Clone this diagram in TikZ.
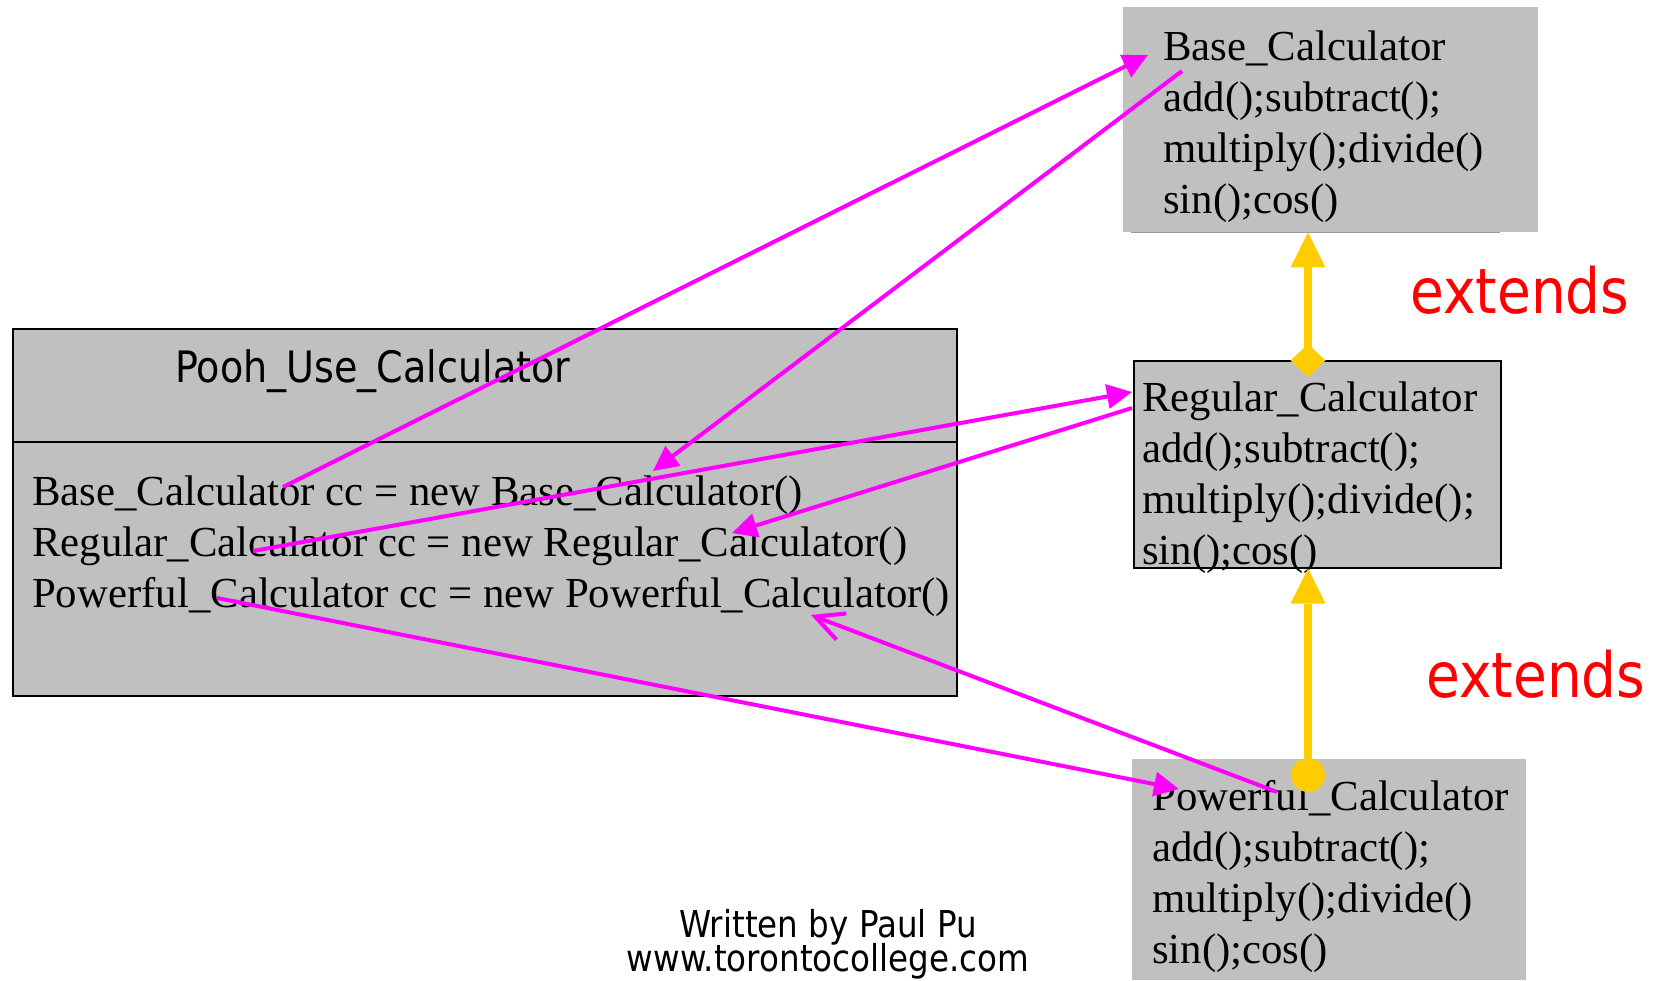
\documentclass[tikz,border=0pt]{standalone}
\usepackage{fontspec}
\setmainfont{Liberation Serif}
\newfontfamily\tahoma[FakeStretch=0.88]{DejaVu Sans}
\usetikzlibrary{arrows.meta}
\definecolor{boxgray}{HTML}{C0C0C0}
\definecolor{mag}{HTML}{FF00FF}
\definecolor{gold}{HTML}{FFCC00}
\definecolor{extred}{HTML}{FF0000}
\begin{document}
\begin{tikzpicture}[x=1pt,y=-1pt,
  box/.style={rectangle, fill=boxgray, inner sep=0pt, anchor=north west},
  txt/.style={inner sep=0pt, anchor=base west, font=\fontsize{42.8}{51}\selectfont},
  link/.style={draw=mag, line width=4pt, -{Triangle[length=25pt,width=24pt]}},
  uselink/.style={draw=mag, line width=4pt, -{Straight Barb[length=28pt,width=28pt]}},
  ext/.style={draw=gold, line width=7.5pt},
  lbl/.style={text=extred, inner sep=0pt, anchor=base west, font=\tahoma\fontsize{62.5}{70}\selectfont},
  foot/.style={inner sep=0pt, anchor=base, font=\tahoma\fontsize{37}{39}\selectfont}]
\useasboundingbox (0,0) rectangle (1662,980);
% boxes
\node[box, minimum width=415pt, minimum height=225pt] (base) at (1123,7) {};
\draw[gray!80, line width=1pt] ([shift={(8,0)}]base.south west) -- ([shift={(-38,0)}]base.south east);
\node[box, draw=black, line width=1.5pt, minimum width=367pt, minimum height=207pt] (reg) at (1133,360) {};
\node[box, minimum width=394pt, minimum height=221pt] (pow) at (1132,759) {};
\node[box, draw=black, line width=1.5pt, minimum width=944pt, minimum height=367pt] (pooh) at (12,328) {};
\draw[line width=1.5pt] ([shift={(0,114)}]pooh.north west) -- ([shift={(0,114)}]pooh.north east);
% texts
\node[txt] (baseT) at (1163,60) {\vtop{\hbox{Base\_Calculator}\hbox{add();subtract();}\hbox{multiply();divide()}\hbox{sin();cos()}}};
\node[txt] (regT) at (1142,411) {\vtop{\hbox{Regular\_Calculator}\hbox{add();subtract();}\hbox{multiply();divide();}\hbox{sin();cos()}}};
\node[txt] (powT) at (1152,810) {\vtop{\hbox{Powerful\_Calculator}\hbox{add();subtract();}\hbox{multiply();divide()}\hbox{sin();cos()}}};
\node[inner sep=0pt, anchor=base west, font=\tahoma\fontsize{43.3}{50}\selectfont] (poohT) at (175,382) {Pooh\_Use\_Calculator};
\node[txt] (poohL) at (32,505) {\vtop{\hbox{Base\_Calculator cc = new Base\_Calculator()}\hbox{Regular\_Calculator cc = new Regular\_Calculator()}\hbox{Powerful\_Calculator cc = new Powerful\_Calculator()}}};
\node[lbl] (ext1) at (1410,313) {extends};
\node[lbl] (ext2) at (1426,697) {extends};
\node[foot] (foot1) at (828,937) {Written by Paul Pu};
\node[foot] (foot2) at (828,971) {www.torontocollege.com};
% inheritance arrows
\draw[ext, {Diamond[length=33pt,width=35pt,line width=0pt]}-{Triangle[length=35pt,width=35pt,line width=0pt]}]
  ([shift={(175,17)}]reg.north west) -- ([shift={(185,0)}]base.south west);
\draw[ext, {Circle[length=34pt,line width=0pt]}-{Triangle[length=35pt,width=35pt,line width=0pt]}]
  ([shift={(176,33)}]pow.north west) -- ([shift={(175,0)}]reg.south west);
% usage arrows
\draw[link] ([shift={(251,-18)}]poohL.base west) -- ([shift={(25,48)}]base.north west);
\draw[link] ([shift={(59,64)}]base.north west) -- ([shift={(621,-34)}]poohL.base west);
\draw[link] ([shift={(221,46)}]poohL.base west) -- ([shift={(-1,32)}]reg.north west);
\draw[link] ([shift={(-1,48)}]reg.north west) -- ([shift={(700,28)}]poohL.base west);
\draw[link] ([shift={(185,93)}]poohL.base west) -- ([shift={(47,30)}]pow.north west);
\draw[uselink] ([shift={(145,33)}]pow.north west) -- ([shift={(779,110)}]poohL.base west);
\end{tikzpicture}
\end{document}
